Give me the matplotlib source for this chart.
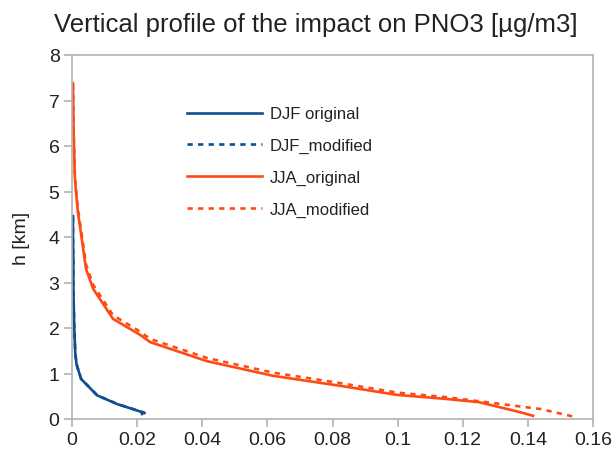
import matplotlib
matplotlib.use("Agg")
import matplotlib.pyplot as plt

plt.rcParams['font.family'] = ['Liberation Sans', 'DejaVu Sans']

# Data (x: impact on PNO3 [µg/m3], h: height [km])
djf_orig_x = [0.0215, 0.0220, 0.0138, 0.0077, 0.0028, 0.0014, 0.0010, 0.0007, 0.0005, 0.0004, 0.0004, 0.0003, 0.0003]
djf_orig_h = [0.11, 0.14, 0.33, 0.52, 0.88, 1.2, 1.45, 2.0, 2.6, 3.0, 3.5, 4.0, 4.46]
djf_mod_x = [0.0225, 0.0222, 0.0139, 0.0078, 0.0028, 0.0014, 0.0010, 0.0007, 0.0005, 0.0004, 0.0004, 0.0003, 0.0003]
djf_mod_h = [0.11, 0.14, 0.33, 0.52, 0.88, 1.2, 1.45, 2.0, 2.6, 3.0, 3.5, 4.0, 4.46]

jja_orig_x = [0.1416, 0.1376, 0.125, 0.115, 0.0998, 0.0823, 0.0617, 0.0415, 0.024, 0.0209, 0.0126, 0.0065, 0.0043, 0.003, 0.0018, 0.0009, 0.0005, 0.0003]
jja_orig_h = [0.07, 0.15, 0.37, 0.44, 0.53, 0.73, 0.95, 1.27, 1.69, 1.85, 2.2, 2.86, 3.3, 3.96, 4.55, 5.27, 6.3, 7.38]
jja_mod_x = [0.1536, 0.1438, 0.125, 0.115, 0.0998, 0.0823, 0.0617, 0.0415, 0.024, 0.0209, 0.0126, 0.0065, 0.0043, 0.003, 0.0018, 0.0009, 0.0005, 0.0003]
jja_mod_h = [0.06, 0.22, 0.39, 0.48, 0.58, 0.79, 1.02, 1.34, 1.76, 1.92, 2.28, 2.95, 3.4, 4.05, 4.62, 5.32, 6.32, 7.38]

blue = '#0e4f8f'
orange = '#ff4a14'

fig = plt.figure(figsize=(6.13, 4.56), dpi=100)
ax = fig.add_axes([72/613, 36/456, (593-72)/613, (420-56)/456])

ax.plot(djf_orig_x, djf_orig_h, color=blue, lw=1.9, label='DJF original')
ax.plot(djf_mod_x, djf_mod_h, color=blue, lw=1.9, ls=(0, (2, 2)), label='DJF_modified')
ax.plot(jja_orig_x, jja_orig_h, color=orange, lw=1.9, label='JJA_original')
ax.plot(jja_mod_x, jja_mod_h, color=orange, lw=1.9, ls=(0, (2, 2)), label='JJA_modified')

ax.set_xlim(0, 0.16)
ax.set_ylim(0, 8)
ax.set_xticks([0, 0.02, 0.04, 0.06, 0.08, 0.1, 0.12, 0.14, 0.16])
ax.set_xticklabels(['0', '0.02', '0.04', '0.06', '0.08', '0.1', '0.12', '0.14', '0.16'])
ax.set_yticks(range(0, 9))

for s in ax.spines.values():
    s.set_color('#b3b3b3')
    s.set_linewidth(1.2)
ax.tick_params(direction='out', length=6, width=1.2, color='#b3b3b3', labelsize=14, labelcolor='#222222', pad=3)

ax.set_ylabel('h [km]', fontsize=14, color='#222222', labelpad=13)
fig.text(316/613, 1 - 25/456, 'Vertical profile of the impact on PNO3 [µg/m3]', fontsize=18.5,
         color='#222222', ha='center', va='center')

leg = ax.legend(loc='upper left', bbox_to_anchor=(0.192, 0.90), frameon=False, fontsize=12,
                handlelength=4.5, labelspacing=1.0, handletextpad=0.45)
for t in leg.get_texts():
    t.set_color('#222222')

fig.savefig('out.png', dpi=100)
